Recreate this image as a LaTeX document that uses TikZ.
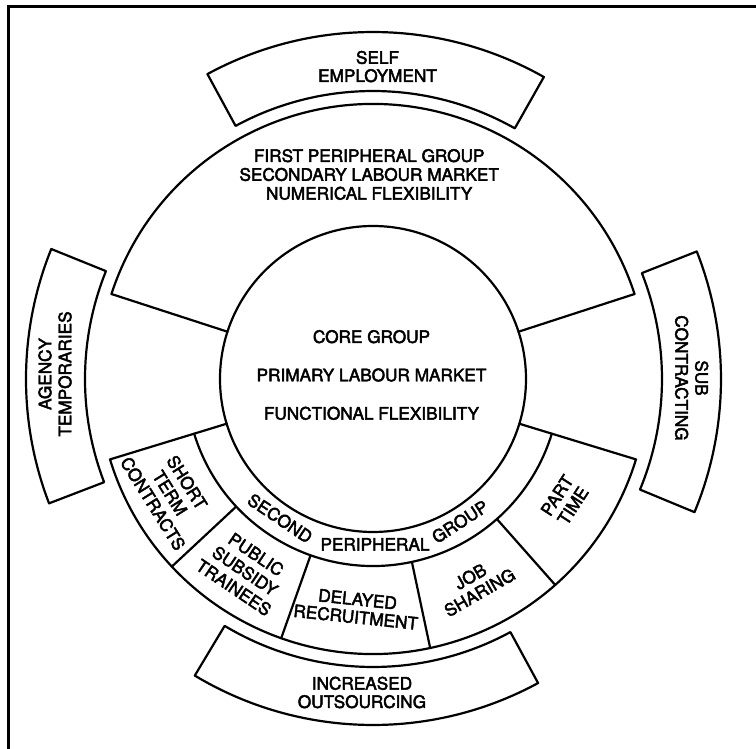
\documentclass[tikz,border=0pt]{standalone}
\usepackage{fontspec}
\setmainfont{TeX Gyre Heros}
\newcommand{\heavytext}{\special{pdf:literal direct 2 Tr 0.45 w}}
\newcommand{\lblfont}{\fontsize{17.2}{19}\selectfont\heavytext}
\newcommand{\lblsize}[1]{\fontsize{17.2}{#1}\selectfont\heavytext}
\begin{document}
\begin{tikzpicture}[x=1pt,y=1pt,
  ln/.style={line width=2.2pt,line join=round,line cap=round},
  box/.style={line width=2.2pt,line join=round},
  lbl/.style={font=\lblfont,align=center,inner sep=0pt}]
\useasboundingbox (-373,-370) rectangle (383,379);
% frame (top and left only)
\draw[line width=3pt] (-364.3,-372) -- (-364.3,372.7) -- (385,372.7);
% core circle
\draw[ln] (0,0) circle[radius=153];
% first peripheral group (top sector)
\draw[ln] (162:153) -- (162:275) arc[start angle=162,end angle=18,radius=275] -- (18:153);
% second peripheral group (bottom sector)
\draw[ln] (197:153) -- (197:275) arc[start angle=197,end angle=343,radius=275] -- (343:153);
\draw[ln] (197:187) arc[start angle=197,end angle=343,radius=187];
\foreach \a in {223,250.5,282,311.5} \draw[ln] (\a:187) -- (\a:275);
% outer boxes
\draw[box] (60.5:288) arc[start angle=60.5,end angle=118.5,radius=288] -- (118.5:347) arc[start angle=118.5,end angle=60.5,radius=347] -- cycle;
\draw[box] (158:288) arc[start angle=158,end angle=201,radius=288] -- (201:347) arc[start angle=201,end angle=158,radius=347] -- cycle;
\draw[box] (-22.5:289) arc[start angle=-22.5,end angle=21.5,radius=289] -- (21.5:348) arc[start angle=21.5,end angle=-22.5,radius=348] -- cycle;
\draw[box] (239:288) arc[start angle=239,end angle=298.5,radius=288] -- (298.5:346) arc[start angle=298.5,end angle=239,radius=346] -- cycle;
% texts
\node[lbl,font=\lblsize{18.2}] (self) at (4.5,312.4) {SELF\\EMPLOYMENT};
\node[lbl,font=\lblsize{18.8}] (first) at (-3.8,204.5) {FIRST PERIPHERAL GROUP\\SECONDARY LABOUR MARKET\\NUMERICAL FLEXIBILITY};
\node[lbl,font=\lblsize{38.3}] (core) at (-1.5,4) {CORE GROUP\\PRIMARY LABOUR MARKET\\FUNCTIONAL FLEXIBILITY};
\node[lbl,font=\lblsize{20},rotate=90] (agency) at (-318,5) {AGENCY\\TEMPORARIES};
\node[lbl,font=\lblsize{20},rotate=-90] (sub) at (318.7,1) {SUB\\CONTRACTING};
\node[lbl,font=\lblsize{18.4}] (outs) at (-11,-313.5) {INCREASED\\OUTSOURCING};
\node[lbl,rotate=-34] (second) at (-93,-139.3) {SECOND};
\node[lbl] (periph) at (2,-165.3) {PERIPHERAL};
\node[lbl,rotate=33] (group) at (87,-142.7) {GROUP};
\node[lbl,font=\lblsize{20},rotate=-58] (short) at (-203,-114) {SHORT\\TERM\\CONTRACTS};
\node[lbl,font=\lblsize{20},rotate=-34] (public) at (-128,-192) {PUBLIC\\SUBSIDY\\TRAINEES};
\node[lbl,font=\lblsize{18},rotate=-6] (delayed) at (-16.3,-229.3) {DELAYED\\RECRUITMENT};
\node[lbl,font=\lblsize{18.5},rotate=30] (job) at (102,-205.5) {JOB\\SHARING};
\node[lbl,font=\lblsize{19},rotate=57] (part) at (192,-121.5) {PART\\TIME};
\end{tikzpicture}
\end{document}
